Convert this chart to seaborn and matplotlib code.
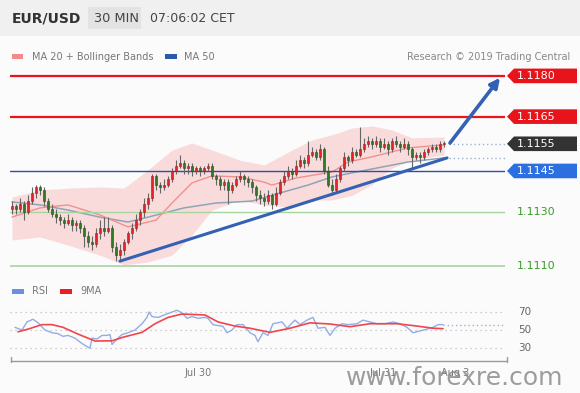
import numpy as np
import pandas as pd
import matplotlib
matplotlib.use("Agg")
import matplotlib.pyplot as plt
import seaborn as sns
from matplotlib.patches import Rectangle, Polygon
from matplotlib.transforms import blended_transform_factory

sns.set_theme(style="white")
plt.rcParams["font.family"] = ["DejaVu Sans"]

# ---------------- data ----------------
opens = [1.1131, 1.1132, 1.1131, 1.1133, 1.1130, 1.1134, 1.1137, 1.1139, 1.1138, 1.1134,
         1.1131, 1.1129, 1.1128, 1.1127, 1.1126, 1.1127, 1.1125, 1.1126, 1.1124, 1.1121,
         1.1119, 1.1118, 1.1122, 1.1124, 1.1123, 1.1124, 1.1117, 1.1114, 1.1116, 1.1119,
         1.1122, 1.1124, 1.1127, 1.1130, 1.1133, 1.1135, 1.1143, 1.1140, 1.1139, 1.1140,
         1.1142, 1.1145, 1.1147, 1.1148, 1.1146, 1.1147, 1.1145, 1.1146, 1.1145, 1.1146,
         1.1147, 1.1143, 1.1142, 1.1140, 1.1141, 1.1138, 1.1140, 1.1142, 1.1143, 1.1142,
         1.1141, 1.1139, 1.1136, 1.1135, 1.1134, 1.1136, 1.1133, 1.1137, 1.1141, 1.1143,
         1.1145, 1.1144, 1.1147, 1.1149, 1.1148, 1.1151, 1.1152, 1.1150, 1.1153, 1.1145,
         1.1140, 1.1138, 1.1142, 1.1146, 1.1150, 1.1149, 1.1152, 1.1151, 1.1153, 1.1155,
         1.1156, 1.1155, 1.1156, 1.1154, 1.1155, 1.1153, 1.1156, 1.1155, 1.1154, 1.1155,
         1.1153, 1.1150, 1.1151, 1.1150, 1.1152, 1.1153, 1.1154, 1.1153, 1.1155]
highs = [1.1134, 1.1133, 1.1135, 1.1134, 1.1136, 1.1139, 1.1140, 1.1140, 1.1139, 1.1135,
         1.1133, 1.1131, 1.1129, 1.1128, 1.1129, 1.1128, 1.1127, 1.1127, 1.1125, 1.1123,
         1.1121, 1.1124, 1.1127, 1.1128, 1.1128, 1.1125, 1.1119, 1.1118, 1.1120, 1.1123,
         1.1126, 1.1129, 1.1131, 1.1135, 1.1137, 1.1144, 1.1144, 1.1141, 1.1142, 1.1143,
         1.1146, 1.1149, 1.1151, 1.1149, 1.1148, 1.1148, 1.1147, 1.1147, 1.1147, 1.1148,
         1.1148, 1.1144, 1.1143, 1.1142, 1.1142, 1.1141, 1.1143, 1.1145, 1.1144, 1.1143,
         1.1142, 1.1140, 1.1138, 1.1137, 1.1138, 1.1137, 1.1139, 1.1142, 1.1145, 1.1147,
         1.1146, 1.1149, 1.1151, 1.1150, 1.1156, 1.1154, 1.1153, 1.1155, 1.1154, 1.1147,
         1.1142, 1.1144, 1.1147, 1.1152, 1.1151, 1.1154, 1.1153, 1.1161, 1.1157, 1.1158,
         1.1157, 1.1158, 1.1157, 1.1157, 1.1156, 1.1157, 1.1158, 1.1156, 1.1157, 1.1156,
         1.1154, 1.1152, 1.1152, 1.1153, 1.1154, 1.1155, 1.1155, 1.1156, 1.1156]
lows = [1.1129, 1.1129, 1.1130, 1.1127, 1.1129, 1.1133, 1.1135, 1.1136, 1.1132, 1.1130,
        1.1128, 1.1126, 1.1125, 1.1124, 1.1125, 1.1123, 1.1123, 1.1122, 1.1117, 1.1117,
        1.1116, 1.1117, 1.1120, 1.1121, 1.1122, 1.1115, 1.1112, 1.1112, 1.1114, 1.1118,
        1.1120, 1.1123, 1.1125, 1.1128, 1.1131, 1.1134, 1.1138, 1.1137, 1.1138, 1.1139,
        1.1141, 1.1144, 1.1146, 1.1144, 1.1144, 1.1143, 1.1144, 1.1143, 1.1144, 1.1145,
        1.1142, 1.1140, 1.1138, 1.1138, 1.1133, 1.1137, 1.1139, 1.1141, 1.1140, 1.1139,
        1.1137, 1.1134, 1.1133, 1.1132, 1.1133, 1.1131, 1.1132, 1.1136, 1.1140, 1.1142,
        1.1142, 1.1143, 1.1146, 1.1146, 1.1147, 1.1150, 1.1149, 1.1149, 1.1144, 1.1139,
        1.1136, 1.1137, 1.1141, 1.1145, 1.1147, 1.1148, 1.1150, 1.1150, 1.1152, 1.1154,
        1.1153, 1.1154, 1.1152, 1.1153, 1.1151, 1.1152, 1.1154, 1.1152, 1.1153, 1.1151,
        1.1146, 1.1149, 1.1148, 1.1149, 1.1151, 1.1152, 1.1152, 1.1152, 1.1154]
closes = [1.1132, 1.1131, 1.1133, 1.1130, 1.1134, 1.1137, 1.1139, 1.1138, 1.1134, 1.1131,
          1.1129, 1.1128, 1.1127, 1.1126, 1.1127, 1.1125, 1.1126, 1.1124, 1.1121, 1.1119,
          1.1118, 1.1122, 1.1124, 1.1123, 1.1124, 1.1117, 1.1114, 1.1116, 1.1119, 1.1122,
          1.1124, 1.1127, 1.1130, 1.1133, 1.1135, 1.1143, 1.1140, 1.1139, 1.1140, 1.1142,
          1.1145, 1.1147, 1.1148, 1.1146, 1.1147, 1.1145, 1.1146, 1.1145, 1.1146, 1.1147,
          1.1143, 1.1142, 1.1140, 1.1141, 1.1138, 1.1140, 1.1142, 1.1143, 1.1142, 1.1141,
          1.1139, 1.1136, 1.1135, 1.1134, 1.1136, 1.1133, 1.1137, 1.1141, 1.1143, 1.1145,
          1.1144, 1.1147, 1.1149, 1.1148, 1.1151, 1.1152, 1.1150, 1.1153, 1.1145, 1.1140,
          1.1138, 1.1142, 1.1146, 1.1150, 1.1149, 1.1152, 1.1151, 1.1153, 1.1155, 1.1156,
          1.1155, 1.1156, 1.1154, 1.1155, 1.1153, 1.1156, 1.1155, 1.1154, 1.1155, 1.1153,
          1.1150, 1.1151, 1.1150, 1.1152, 1.1153, 1.1154, 1.1153, 1.1155, 1.1155]

ma50_idx = [0, 7, 14, 22, 29, 34, 43, 51, 60, 67, 74, 80, 85, 99, 108]
ma50_val = [1.11336, 1.11325, 1.11306, 1.11280, 1.11262, 1.11280, 1.11314, 1.11332,
            1.11339, 1.11369, 1.11398, 1.11428, 1.11443, 1.11483, 1.11498]
ma20_idx = [0, 7, 14, 22, 29, 36, 40, 45, 50, 57, 63, 65, 71, 80, 84, 90, 99, 108]
ma20_val = [1.11280, 1.11314, 1.11325, 1.11288, 1.11244, 1.11269, 1.11332, 1.11406,
            1.11432, 1.11428, 1.11409, 1.11398, 1.11424, 1.11446, 1.11483, 1.11502,
            1.11535, 1.11546]
band_idx = [0, 7, 14, 22, 28, 34, 40, 45, 50, 57, 63, 70, 75, 80, 85, 90, 95, 100, 108]
band_up = [1.11354, 1.11380, 1.11387, 1.11391, 1.11387, 1.11454, 1.11527, 1.11553,
           1.11527, 1.11490, 1.11472, 1.11527, 1.11564, 1.11583, 1.11608, 1.11616,
           1.11601, 1.11572, 1.11575]
band_lo = [1.11196, 1.11207, 1.11177, 1.11140, 1.11104, 1.11115, 1.11140, 1.11214,
           1.11306, 1.11343, 1.11325, 1.11317, 1.11343, 1.11343, 1.11360, 1.11400,
           1.11461, 1.11490, 1.11509]

rsi_idx = [0.75, 2.5, 3.75, 5.25, 6.5, 8.25, 10, 11.5, 12.75, 14, 15.75, 17.5, 19, 19.5,
           20, 21.25, 22.5, 23.75, 24.5, 25, 26.5, 27.5, 29, 30.75, 32.5, 33.75, 34.25,
           35, 36.5, 38.25, 40, 41.25, 42.5, 43.75, 45, 46.5, 48.25, 49, 50.25, 51.5,
           52.75, 53.75, 55, 56.25, 57.75, 59.5, 60.75, 61.5, 62.75, 64, 65.25, 67.5,
           68.75, 70.75, 72, 73.75, 75.25, 76.5, 78.25, 79.5, 80.75, 82.5, 84, 86.25,
           87.75, 89.5, 91.25, 93.25, 95.25, 97, 98.75, 100.25, 102, 103.75, 105.25,
           106.5, 107.75]
rsi_val = [53, 50, 59, 62, 58, 50, 47, 46, 43, 44, 41, 35, 31, 30, 41, 40, 44, 44, 45, 34,
           41, 45, 47, 50, 57, 64, 70, 65, 64, 67, 70, 72, 69, 63, 65, 63, 64, 63, 56, 55,
           54, 47, 50, 56, 56, 47, 44, 37, 47, 44, 57, 59, 52, 61, 56, 61, 64, 52, 53, 44,
           52, 57, 56, 57, 61, 59, 57, 57, 59, 57, 53, 47, 49, 51, 53, 56, 56]
ma9_idx = [1.5, 4, 7.5, 10, 12.75, 16.5, 20.75, 25, 27.75, 32.5, 35.75, 39, 42.5, 48.25,
           51.5, 55.75, 59.5, 64.5, 69.5, 74.5, 79.5, 84.5, 89.5, 96.25, 101.25, 105.25,
           107.75]
ma9_val = [48, 51, 56, 56, 53, 45.5, 37.8, 38, 42, 47.4, 57, 64, 67.8, 66.7, 59, 54.4,
           52, 47.4, 52, 58, 56.7, 53.7, 57, 57, 54.4, 52, 51.5]

levels = [1.1180, 1.1165, 1.1155, 1.1145, 1.1130, 1.1110]
level_labels = ["1.1180", "1.1165", "1.1155", "1.1145", "1.1130", "1.1110"]
trend_x = [27, 108.75]
trend_y = [1.11118, 1.11498]
arrow_from = (109.5, 1.11553)
arrow_to = (122.0, 1.11793)
date_pos = [46.5, 92.75, 110.75]
date_labels = ["Jul 30", "Jul 31", "Aug 3"]
rsi_ticks = [70, 50, 30]

# ---------------- figure ----------------
W, H = 580, 393
fig = plt.figure(figsize=(5.8, 3.93), dpi=100)
fig.patch.set_facecolor("#fbfbfb")


def rect_px(l, t, r, b):
    return [l / W, 1 - b / H, (r - l) / W, (b - t) / H]


# background / header overlay
bg = fig.add_axes([0, 0, 1, 1], zorder=-5)
bg.set_xlim(0, W)
bg.set_ylim(H, 0)
bg.axis("off")
bg.add_patch(Rectangle((0, 0), W, 36, color="#f1f0f0", lw=0))
bg.add_patch(Rectangle((88, 7), 53, 22, color="#e3e3e3", lw=0))
bg.text(12, 18.5, "EUR/USD", fontsize=10, fontweight="bold", color="#333333", va="center")
bg.text(94, 18.5, "30 MIN", fontsize=9.3, color="#444444", va="center")
bg.text(150, 18.5, "07:06:02 CET", fontsize=9, color="#444444", va="center")
bg.add_patch(Rectangle((12, 54), 11, 5, color="#f28a8a", lw=0))
bg.text(32, 56.5, "MA 20 + Bollinger Bands", fontsize=7, color="#777777", va="center")
bg.add_patch(Rectangle((165, 54), 12, 5, color="#2b5aa8", lw=0))
bg.text(184, 56.5, "MA 50", fontsize=7, color="#777777", va="center")
bg.text(570, 56.5, "Research \u00a9 2019 Trading Central", fontsize=7, color="#888888",
        va="center", ha="right")
bg.add_patch(Rectangle((12, 289), 12, 5, color="#6d8fe0", lw=0))
bg.text(32, 291.5, "RSI", fontsize=7, color="#777777", va="center")
bg.add_patch(Rectangle((60, 289), 12, 5, color="#ee1c25", lw=0))
bg.text(80, 291.5, "9MA", fontsize=7, color="#777777", va="center")
bg.plot([11, 507], [361, 361], color="#9a9a9a", lw=1)
bg.plot([11, 11], [357, 362], color="#9a9a9a", lw=1)
bg.plot([507, 507], [357, 362], color="#9a9a9a", lw=1)

# ---------------- main price axes ----------------
ax = fig.add_axes(rect_px(10, 68, 505, 275))
ax.set_facecolor("none")
ax.set_xlim(-0.5, 123.25)
ax.set_ylim(1.11067, 1.11829)
for s in ax.spines.values():
    s.set_visible(False)
ax.set_xticks([])
ax.set_yticks([])

# Bollinger band + MAs
ax.fill_between(band_idx, band_lo, band_up, color="#fad6d6", alpha=0.85, lw=0, zorder=1)
sns.lineplot(x=ma50_idx, y=ma50_val, ax=ax, color="#8ea4b8", lw=1.1, zorder=2)
sns.lineplot(x=ma20_idx, y=ma20_val, ax=ax, color="#f29090", lw=1.0, zorder=2)

# level lines
ax.axhline(levels[0], color="#e8141c", lw=1.6, zorder=3)
ax.axhline(levels[1], color="#e8141c", lw=1.6, zorder=3)
ax.axhline(levels[3], color="#2a4fa8", lw=1.0, zorder=3)
ax.axhline(levels[4], color="#a8d4a0", lw=1.0, zorder=3)
ax.axhline(levels[5], color="#a8d4a0", lw=1.2, zorder=3)
ax.hlines(levels[2], 109.2, 123.25, color="#9fb0cf", lw=1, linestyles=(0, (1, 2)), zorder=3)
ax.hlines(ma50_val[-1], 109.2, 123.25, color="#9fb0cf", lw=1, linestyles=(0, (1, 2)), zorder=3)

# candles
x = np.arange(len(closes))
o = np.array(opens)
c = np.array(closes)
hi = np.array(highs)
lo = np.array(lows)
up = c >= o
ax.vlines(x, lo, hi, color="#666666", lw=0.8, zorder=4)
body_bottom = np.minimum(o, c)
body_h = np.maximum(np.abs(c - o), 0.00003)
ax.bar(x[up], body_h[up], bottom=body_bottom[up], width=0.72, color="#e3242b",
       edgecolor="#9a2020", lw=0.4, zorder=5)
ax.bar(x[~up], body_h[~up], bottom=body_bottom[~up], width=0.72, color="#2f7a22",
       edgecolor="#1f4f18", lw=0.4, zorder=5)

# trend line and arrow
ax.plot(trend_x, trend_y, color="#3461b4", lw=2.2, solid_capstyle="round", zorder=6)
ax.annotate("", xy=arrow_to, xytext=arrow_from,
            arrowprops=dict(arrowstyle="-|>", color="#3461b4", lw=2.6,
                            mutation_scale=14, shrinkA=0, shrinkB=0), zorder=6)

# right price labels
tr = blended_transform_factory(ax.transAxes, ax.transData)
box_colors = ["#e8141c", "#e8141c", "#333333", "#2c6fe0", None, None]
hh = 7.3 / 27140
xl, xn, xr = (507 - 10) / 495, (514 - 10) / 495, (577 - 10) / 495
for lev, lab, bc in zip(levels, level_labels, box_colors):
    if bc is not None:
        poly = Polygon([[xl, lev], [xn, lev + hh], [xr, lev + hh], [xr, lev - hh], [xn, lev - hh]],
                       closed=True, transform=tr, color=bc, clip_on=False, lw=0)
        ax.add_patch(poly)
        tc = "white"
    else:
        tc = "#3a9a2a"
    ax.text((517 - 10) / 495, lev, lab, transform=tr, color=tc, fontsize=8,
            va="center", ha="left", clip_on=False)

# ---------------- RSI axes ----------------
rax = fig.add_axes(rect_px(10, 296, 505, 361))
rax.set_facecolor("none")
rax.set_xlim(-0.5, 123.25)
rax.set_ylim(15.6, 87.8)
for s in rax.spines.values():
    s.set_visible(False)
rax.set_yticks([])
for t in rsi_ticks:
    rax.axhline(t, color="#bdbdbd", lw=0.9, linestyle=(0, (1, 3)), zorder=1)
sns.lineplot(x=rsi_idx, y=rsi_val, ax=rax, color="#94ace6", lw=1.0, zorder=3)
sns.lineplot(x=ma9_idx, y=ma9_val, ax=rax, color="#f0454d", lw=1.2, zorder=4)
rax.hlines(rsi_val[-1], rsi_idx[-1], 123.25, color="#9fb0e6", lw=1,
           linestyles=(0, (1, 2)), zorder=3)
rtr = blended_transform_factory(rax.transAxes, rax.transData)
for t in rsi_ticks:
    rax.text((518 - 10) / 495, t, str(t), transform=rtr, color="#666666", fontsize=7.5,
             va="center", ha="left", clip_on=False)
rax.set_xticks(date_pos)
rax.set_xticklabels(date_labels, fontsize=7, color="#777777")
rax.tick_params(axis="x", length=0, pad=5)
rax.set_xlabel("")
rax.set_ylabel("")
ax.set_xlabel("")
ax.set_ylabel("")

# watermark
fig.text(346 / W, 1 - 378 / H, "www.forexre.com", fontsize=18, color="#8c8c8c",
         alpha=0.85, va="center", ha="left")

fig.savefig("out.png", dpi=100, facecolor=fig.get_facecolor())
